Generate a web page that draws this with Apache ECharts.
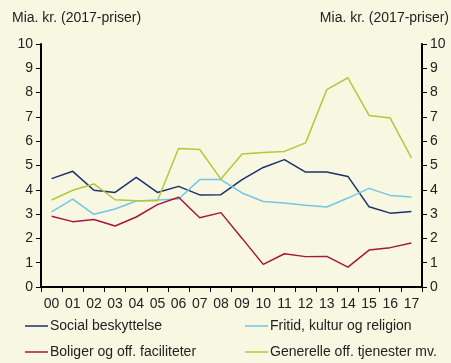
<!DOCTYPE html>
<html>
<head>
<meta charset="utf-8">
<script src="https://cdn.jsdelivr.net/npm/echarts@6/dist/echarts.min.js"></script>
<style>
  html, body { margin: 0; padding: 0; background: #f8f7e2; }
  #chart { width: 451px; height: 363px; }
</style>
</head>
<body>
<div id="chart"></div>
<script>
// Years (two-digit labels) on the category axis
const years = ['00','01','02','03','04','05','06','07','08','09','10','11','12','13','14','15','16','17'];

// Spending by function, billion NOK (2017 prices)
const socialBeskyttelse = [4.46, 4.76, 3.98, 3.89, 4.51, 3.89, 4.14, 3.79, 3.80, 4.42, 4.92, 5.24, 4.73, 4.73, 4.55, 3.30, 3.04, 3.11];
const fritidKultur      = [3.09, 3.62, 2.99, 3.21, 3.54, 3.58, 3.62, 4.42, 4.42, 3.87, 3.52, 3.46, 3.36, 3.29, 3.66, 4.06, 3.77, 3.70];
const boligerFasiliteter = [2.91, 2.69, 2.78, 2.51, 2.88, 3.39, 3.69, 2.85, 3.06, 2.00, 0.93, 1.37, 1.25, 1.26, 0.82, 1.52, 1.62, 1.81];
const generelleTjenester = [3.58, 3.98, 4.24, 3.59, 3.55, 3.55, 5.70, 5.66, 4.44, 5.47, 5.54, 5.58, 5.93, 8.12, 8.61, 7.06, 6.95, 5.31];

const seriesNames = ['Social beskyttelse', 'Fritid, kultur og religion', 'Boliger og off. faciliteter', 'Generelle off. tjenester mv.'];
const seriesColors = ['#1c2f6e', '#72c7e6', '#a5173f', '#b4c73a'];
const seriesData = [socialBeskyttelse, fritidKultur, boligerFasiliteter, generelleTjenester];

const unitLabel = 'Mia. kr. (2017-priser)';
const textColor = '#222';
const fontFamily = '"Liberation Sans", Arial, sans-serif';

const chart = echarts.init(document.getElementById('chart'), null, { renderer: 'canvas' });

function valueAxis(position) {
  return {
    type: 'value',
    position: position,
    min: 0, max: 10, interval: 1,
    axisLine: { show: true, lineStyle: { color: '#000', width: 2 } },
    axisTick: { show: true, inside: false, length: 5, lineStyle: { color: '#000', width: 1 } },
    axisLabel: { color: textColor, fontSize: 14, fontFamily: fontFamily, margin: 8 },
    splitLine: { show: false }
  };
}

const legendSlots = [
  { left: 25, top: 319 },
  { left: 245, top: 319 },
  { left: 25, top: 345 },
  { left: 245, top: 345 }
];

chart.setOption({
  backgroundColor: '#f8f7e2',
  animation: false,
  grid: { left: 41, right: 29, top: 44, bottom: 76, containLabel: false },
  graphic: [
    { type: 'text', left: 12, top: 11, style: { text: unitLabel, fill: textColor, font: '14px ' + fontFamily } },
    { type: 'text', right: 2, top: 11, style: { text: unitLabel, fill: textColor, font: '14px ' + fontFamily } }
  ],
  legend: seriesNames.map((name, i) => ({
    data: [name],
    left: legendSlots[i].left,
    top: legendSlots[i].top,
    padding: 0,
    icon: 'rect',
    itemWidth: 23,
    itemHeight: 1.5,
    itemGap: 0,
    selectedMode: false,
    textStyle: { color: textColor, fontSize: 14, fontFamily: fontFamily, padding: [0, 0, 0, -3] }
  })),
  xAxis: {
    type: 'category',
    data: years,
    boundaryGap: true,
    axisLine: { show: true, lineStyle: { color: '#000', width: 2 } },
    axisTick: { show: true, inside: false, length: 5, alignWithLabel: false, lineStyle: { color: '#000', width: 1 } },
    axisLabel: { color: textColor, fontSize: 14, fontFamily: fontFamily, margin: 10, interval: 0 },
    splitLine: { show: false }
  },
  yAxis: [valueAxis('left'), valueAxis('right')],
  series: seriesNames.map((name, i) => ({
    name: name,
    type: 'line',
    yAxisIndex: 0,
    data: seriesData[i],
    symbol: 'none',
    color: seriesColors[i],
    lineStyle: { color: seriesColors[i], width: 1.5 },
    itemStyle: { color: seriesColors[i] }
  }))
});
</script>
</body>
</html>
